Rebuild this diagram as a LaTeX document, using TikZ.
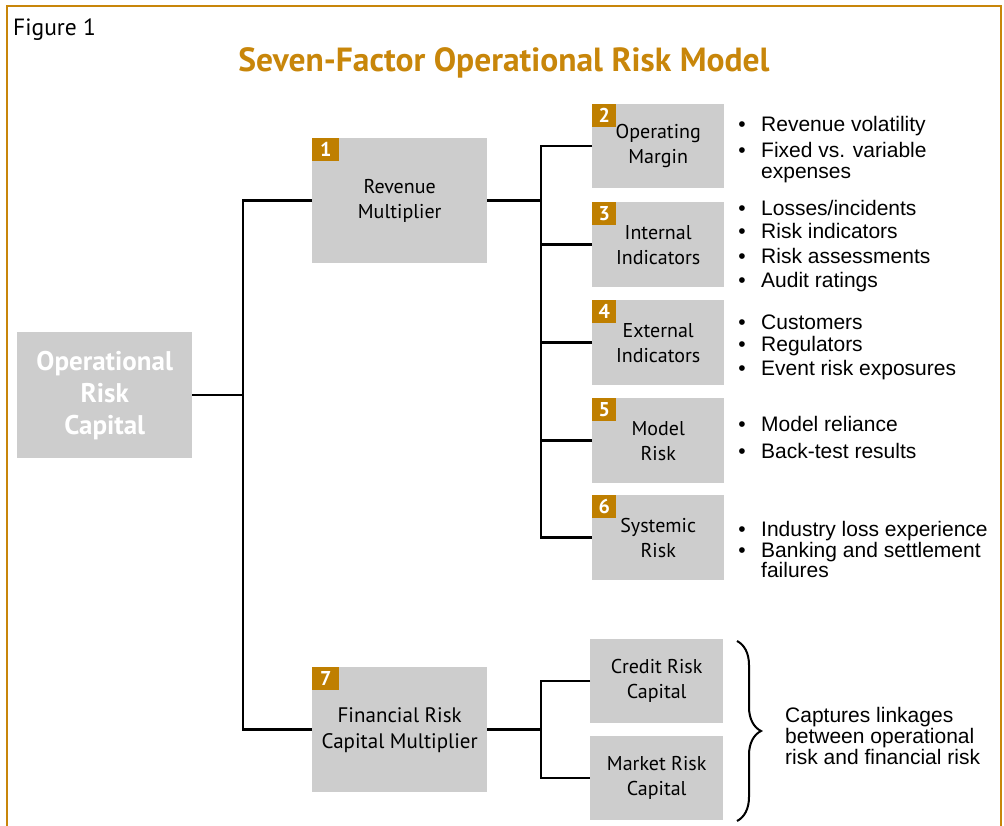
\documentclass[tikz,border=0pt]{standalone}
\usepackage{fontspec}
\setmainfont{PT Sans}
\newfontfamily\listfont{Liberation Sans}
\usetikzlibrary{decorations.pathreplacing}
\definecolor{framegold}{HTML}{C8860A}
\definecolor{badgegold}{HTML}{BF7F00}
\definecolor{boxgrey}{HTML}{CDCDCD}

\begin{document}
\begin{tikzpicture}[x=1pt,y=-1pt,
  box/.style={fill=boxgrey, draw=none, anchor=north west, inner sep=0pt,
    align=center, font=\fontsize{20}{25}\selectfont},
  badge/.style={fill=badgegold, text=white, anchor=north west, minimum width=24pt,
    minimum height=23pt, inner sep=0pt, font=\bfseries\fontsize{20}{20}\selectfont},
  link/.style={line width=2.5pt},
  item/.style={anchor=base west, inner sep=0pt, font=\listfont\fontsize{21}{21}\selectfont},
  dot/.style={anchor=base, inner sep=0pt, font=\listfont\fontsize{21}{21}\selectfont},
]
\useasboundingbox (0,0) rectangle (1004,826);
\fill[white] (0,0) rectangle (1004,826);

% outer frame (open at the bottom)
\draw[framegold, line width=2pt] (7,826) -- (7,6) -- (1001,6) -- (1001,826);

% headings
\node[anchor=west, inner sep=0pt, font=\fontsize{23.5}{23.5}\selectfont] (fig) at (13,30) {Figure 1};
\node[inner sep=0pt, text=framegold, font=\bfseries\fontsize{33.5}{33.5}\selectfont] (title) at (504,63)
  {Seven-Factor Operational Risk Model};

% root
\node[box, minimum width=175pt, minimum height=126pt, text=white,
  font=\bfseries\fontsize{27}{32}\selectfont] (orc) at (17,332) {Operational\\Risk\\Capital};

% first-level multipliers
\node[box, minimum width=175pt, minimum height=125pt] (rev) at (312,138) {Revenue\\Multiplier};
\node[badge, minimum width=27pt] (n1) at (rev.north west) {1};
\node[box, minimum width=175pt, minimum height=125pt,
  font=\fontsize{21}{26}\selectfont] (fin) at (312,667) {Financial Risk\\Capital Multiplier};
\node[badge, minimum width=27pt] (n7) at (fin.north west) {7};

% revenue factors
\node[box, minimum width=132pt, minimum height=84pt] (f2) at (592,104) {Operating\\Margin};
\node[badge] (n2) at (f2.north west) {2};
\node[box, minimum width=132pt, minimum height=85pt] (f3) at (592,202) {Internal\\Indicators};
\node[badge] (n3) at (f3.north west) {3};
\node[box, minimum width=132pt, minimum height=85pt] (f4) at (592,300) {External\\Indicators};
\node[badge] (n4) at (f4.north west) {4};
\node[box, minimum width=132pt, minimum height=85pt] (f5) at (592,398) {Model\\Risk};
\node[badge] (n5) at (f5.north west) {5};
\node[box, minimum width=132pt, minimum height=85pt] (f6) at (592,495) {Systemic\\Risk};
\node[badge] (n6) at (f6.north west) {6};

% financial components
\node[box, minimum width=133pt, minimum height=84pt] (crc) at (590,639) {Credit Risk\\Capital};
\node[box, minimum width=133pt, minimum height=84pt] (mrc) at (590,736) {Market Risk\\Capital};

% connectors
\coordinate (ja) at (243,0);
\coordinate (jb) at (541,0);
\draw[link] (orc.east) -- (orc.east -| ja);
\draw[link] (rev.west) -| (ja |- fin.west) -- (fin.west);
\draw[link] (rev.east) -- (rev.east -| jb);
\draw[link] (f2.west) -| (jb |- f6.west) -- (f6.west);
\foreach \f in {f3,f4,f5} \draw[link] (\f.west) -- (\f.west -| jb);
\draw[link] (fin.east) -- (fin.east -| jb);
\draw[link] (crc.west) -| (jb |- mrc.west) -- (mrc.west);

% bullet lists
\foreach[count=\k] \yy/\t in {132/{Revenue volatility}, 158/{Fixed vs. variable},
    216/{Losses/incidents}, 239/{Risk indicators}, 264/{Risk assessments}, 288/{Audit ratings},
    330/{Customers}, 351/{Regulators}, 375/{Event risk exposures},
    431/{Model reliance}, 458/{Back-test results},
    536/{Industry loss experience}, 557/{Banking and settlement}} {
  \node[dot] (d\k) at (742,\yy) {•};
  \node[item] (t\k) at (761,\yy) {\t};
}
\node[item] (c1) at (761,179) {expenses};
\node[item] (c2) at (761,577) {failures};

% brace and note
\coordinate (bt) at (737,641);
\coordinate (bb) at (737,821);
\draw[line width=2pt, decorate, decoration={brace, amplitude=24pt}] (bt) -- (bb);
\node[anchor=west, align=left, inner sep=0pt, font=\listfont\fontsize{21}{21}\selectfont]
  (note) at (785,736) {Captures linkages\\between operational\\risk and financial risk};
\end{tikzpicture}
\end{document}
